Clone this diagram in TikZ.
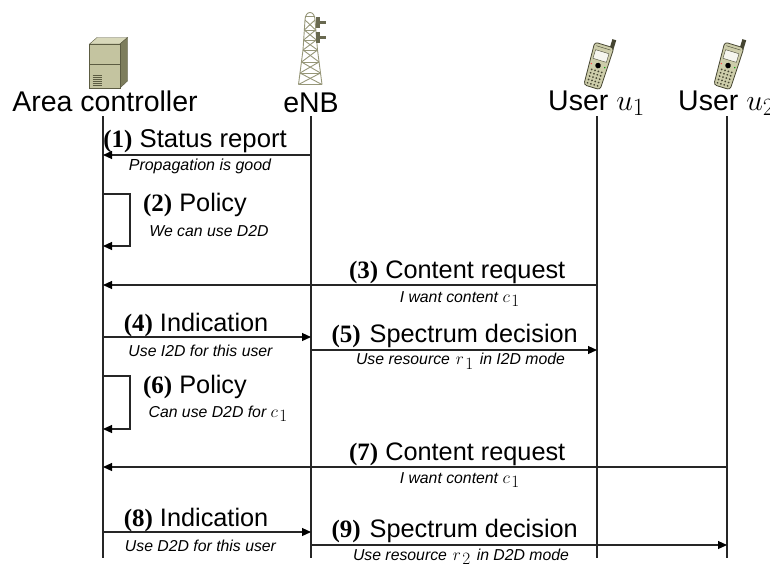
\documentclass[tikz,border=0pt]{standalone}
\usepackage{fontspec}
\usepackage{amsmath}
\usepackage{graphicx}
\setmainfont{Liberation Sans}
\newfontfamily\numfont{Liberation Serif}
\usetikzlibrary{arrows.meta}
\definecolor{srvfront}{RGB}{196,196,160}
\definecolor{srvtop}{RGB}{216,216,186}
\definecolor{srvside}{RGB}{125,125,92}
\definecolor{srvline}{RGB}{92,92,66}
\definecolor{towerc}{RGB}{150,150,120}
\definecolor{towerd}{RGB}{105,105,80}
\definecolor{phonec}{RGB}{205,205,170}
\definecolor{phoned}{RGB}{70,70,50}
\tikzset{
  actor/.style={inner sep=0pt,anchor=base,font=\fontsize{28.5}{30}\selectfont},
  head/.style={inner sep=0pt,anchor=base east,font=\fontsize{25.3}{28}\selectfont},
  sub/.style={inner sep=0pt,anchor=base,font=\fontsize{15.8}{17}\selectfont\itshape},
  life/.style={line width=1.1pt,black!85},
  msg/.style={line width=1.1pt,black!85,-{Triangle[length=9pt,width=8pt,color=black]}},
}
\newcommand{\stepnum}[1]{{\fontsize{25}{26}\numfont\bfseries(#1)}}
\newcommand{\submath}[2]{{\fontsize{17.28}{18}\selectfont$#1$\kern1.5pt\raisebox{-4.5pt}{$#2$}}}
\newcommand{\actormath}[1]{\scalebox{1.2}{$#1$}}
\newcommand{\phoneicon}[2]{%
  \begin{scope}[shift={(#1,#2)},rotate=-17]
    \fill[phoned] (6.5,-28) rectangle (10.5,-18);
    \filldraw[fill=phonec,draw=phoned,line width=0.8pt,rounded corners=3pt] (-9.5,-20) -- (10.5,-20) -- (9.5,24) -- (-7.5,24) -- cycle;
    \draw[phoned,line width=0.4pt] (-7,-17) -- (8,-17);
    \fill[white!80!phonec,draw=phoned,line width=0.4pt] (-6.5,-13) rectangle (7.5,-4);
    \fill[black] (0.5,1.5) circle (2.8);
    \fill[red!70] (-6.5,1.5) circle (0.8);
    \fill[green!60!black] (7.5,1.5) circle (0.8);
    \foreach \yy in {7,10.5,14,17.5,21}\foreach \xx in {-4.5,-1,2.5,6}
      \fill[phoned] (\xx,\yy) circle (1);
  \end{scope}}
\begin{document}
\begin{tikzpicture}[x=1pt,y=-1pt]
\useasboundingbox (0,0) rectangle (770,563);
% server
\fill[srvtop,draw=srvline,line width=0.4pt] (89.5,44) -- (97,37.5) -- (127.5,37.5) -- (120,44) -- cycle;
\fill[srvside,draw=srvline,line width=0.4pt] (120,44) -- (127.5,37.5) -- (127.5,81) -- (120,88) -- cycle;
\fill[srvfront,draw=srvline,line width=0.4pt] (89.5,44) rectangle (120,88);
\draw[srvline,line width=0.7pt] (89.5,64.5) -- (120,64.5);
\foreach \yy in {75.5,77.5,...,85.5} \draw[srvline,line width=0.5pt] (92.5,\yy) -- (102,\yy);
% tower
\begin{scope}[towerc,line width=0.9pt]
  \draw (298.5,84.5) -- (303,50) -- (305,20);
  \draw (322,84.5) -- (317.5,50) -- (315,20);
  \draw (305,20) .. controls (305,10) and (315,10) .. (315,20);
  \draw (305,16) -- (315,16);
  \foreach \ya/\yb/\xl/\xr/\xs/\xt in {20/30/305/315/304.3/315.7,30/40/304.3/315.7/303.6/316.4,40/50/303.6/316.4/303/317.5,50/62/303/317.5/301.5/319,62/73/301.5/319/300/320.5,73/84.5/300/320.5/298.5/322}{
    \draw (\xl,\ya) -- (\xt,\yb);
    \draw (\xr,\ya) -- (\xs,\yb);
    \draw (\xs,\yb) -- (\xt,\yb);
  }
  \fill[towerd] (315.5,17) rectangle (319.5,28);
  \fill[towerd] (315.5,32) rectangle (319.5,43);
  \fill[towerd] (319,21) rectangle (325.5,23.5);
  \fill[towerd] (319,36) rectangle (325.5,38.5);
\end{scope}
% phones
\phoneicon{598}{64}
\phoneicon{728}{64}
% labels
\node[actor] (ac) at (105,111) {Area controller};
\node[actor] (enb) at (311,112) {eNB};
\node[actor,anchor=base west] (u1) at (548,110) {User \actormath{u_1}};
\node[actor,anchor=base west] (u2) at (678,110) {User \actormath{u_2}};
% lifelines
\coordinate (a0) at (103,116); \coordinate (a1) at (103,558);
\coordinate (b0) at (311,116); \coordinate (b1) at (311,558);
\coordinate (c0) at (597,116); \coordinate (c1) at (597,558);
\coordinate (d0) at (727,116); \coordinate (d1) at (727,558);
\draw[life] (a0) -- (a1);
\draw[life] (b0) -- (b1);
\draw[life] (c0) -- (c1);
\draw[life] (d0) -- (d1);
% messages
\coordinate (m1s) at (b0|-0,155); \coordinate (m1e) at (a0|-0,155);
\draw[msg] (m1s) -- (m1e);
\node[head,font=\fontsize{25.7}{28}\selectfont] (t1) at (287,147) {\stepnum{1} Status report};
\node[sub,font=\fontsize{16}{17}\selectfont\itshape] (s1) at (200,170) {Propagation is good};
\coordinate (m2s) at (a0|-0,194); \coordinate (m2e) at (a0|-0,246);
\draw[msg] (m2s) -- ++(27,0) |- (m2e);
\node[head] (t2) at (247,211.5) {\stepnum{2} Policy};
\node[sub] (s2) at (209,236) {We can use D2D};
\coordinate (m3s) at (c0|-0,285); \coordinate (m3e) at (a0|-0,285);
\draw[msg] (m3s) -- (m3e);
\node[head] (t3) at (565.5,278) {\stepnum{3} Content request};
\node[sub] (s3) at (459.5,302) {I want content \submath{c}{1}};
\coordinate (m4s) at (a0|-0,337); \coordinate (m4e) at (b0|-0,337);
\draw[msg] (m4s) -- (m4e);
\node[head] (t4) at (268.5,331) {\stepnum{4} Indication};
\node[sub] (s4) at (200.5,356) {Use I2D for this user};
\coordinate (m5s) at (b0|-0,350); \coordinate (m5e) at (c0|-0,350);
\draw[msg] (m5s) -- (m5e);
\node[head] (t5) at (578,342) {\stepnum{5}\kern2pt{} Spectrum decision};
\node[sub] (s5) at (460.5,364.5) {Use resource \kern1.5pt\submath{r}{1}\kern2pt{} in I2D mode};
\coordinate (m6s) at (a0|-0,376); \coordinate (m6e) at (a0|-0,429);
\draw[msg] (m6s) -- ++(27,0) |- (m6e);
\node[head] (t6) at (247,393) {\stepnum{6} Policy};
\node[sub] (s6) at (218,417) {Can use D2D for \submath{c}{1}};
\coordinate (m7s) at (d0|-0,467); \coordinate (m7e) at (a0|-0,467);
\draw[msg] (m7s) -- (m7e);
\node[head] (t7) at (565.5,460) {\stepnum{7} Content request};
\node[sub] (s7) at (459.5,483) {I want content \submath{c}{1}};
\coordinate (m8s) at (a0|-0,532); \coordinate (m8e) at (b0|-0,532);
\draw[msg] (m8s) -- (m8e);
\node[head] (t8) at (268.5,526) {\stepnum{8} Indication};
\node[sub] (s8) at (200.5,551.5) {Use D2D for this user};
\coordinate (m9s) at (b0|-0,545); \coordinate (m9e) at (d0|-0,545);
\draw[msg] (m9s) -- (m9e);
\node[head] (t9) at (578,537) {\stepnum{9}\kern2pt{} Spectrum decision};
\node[sub] (s9) at (461,560) {Use resource \kern1.5pt\submath{r}{2}\kern2pt{} in D2D mode};
\end{tikzpicture}
\end{document}
